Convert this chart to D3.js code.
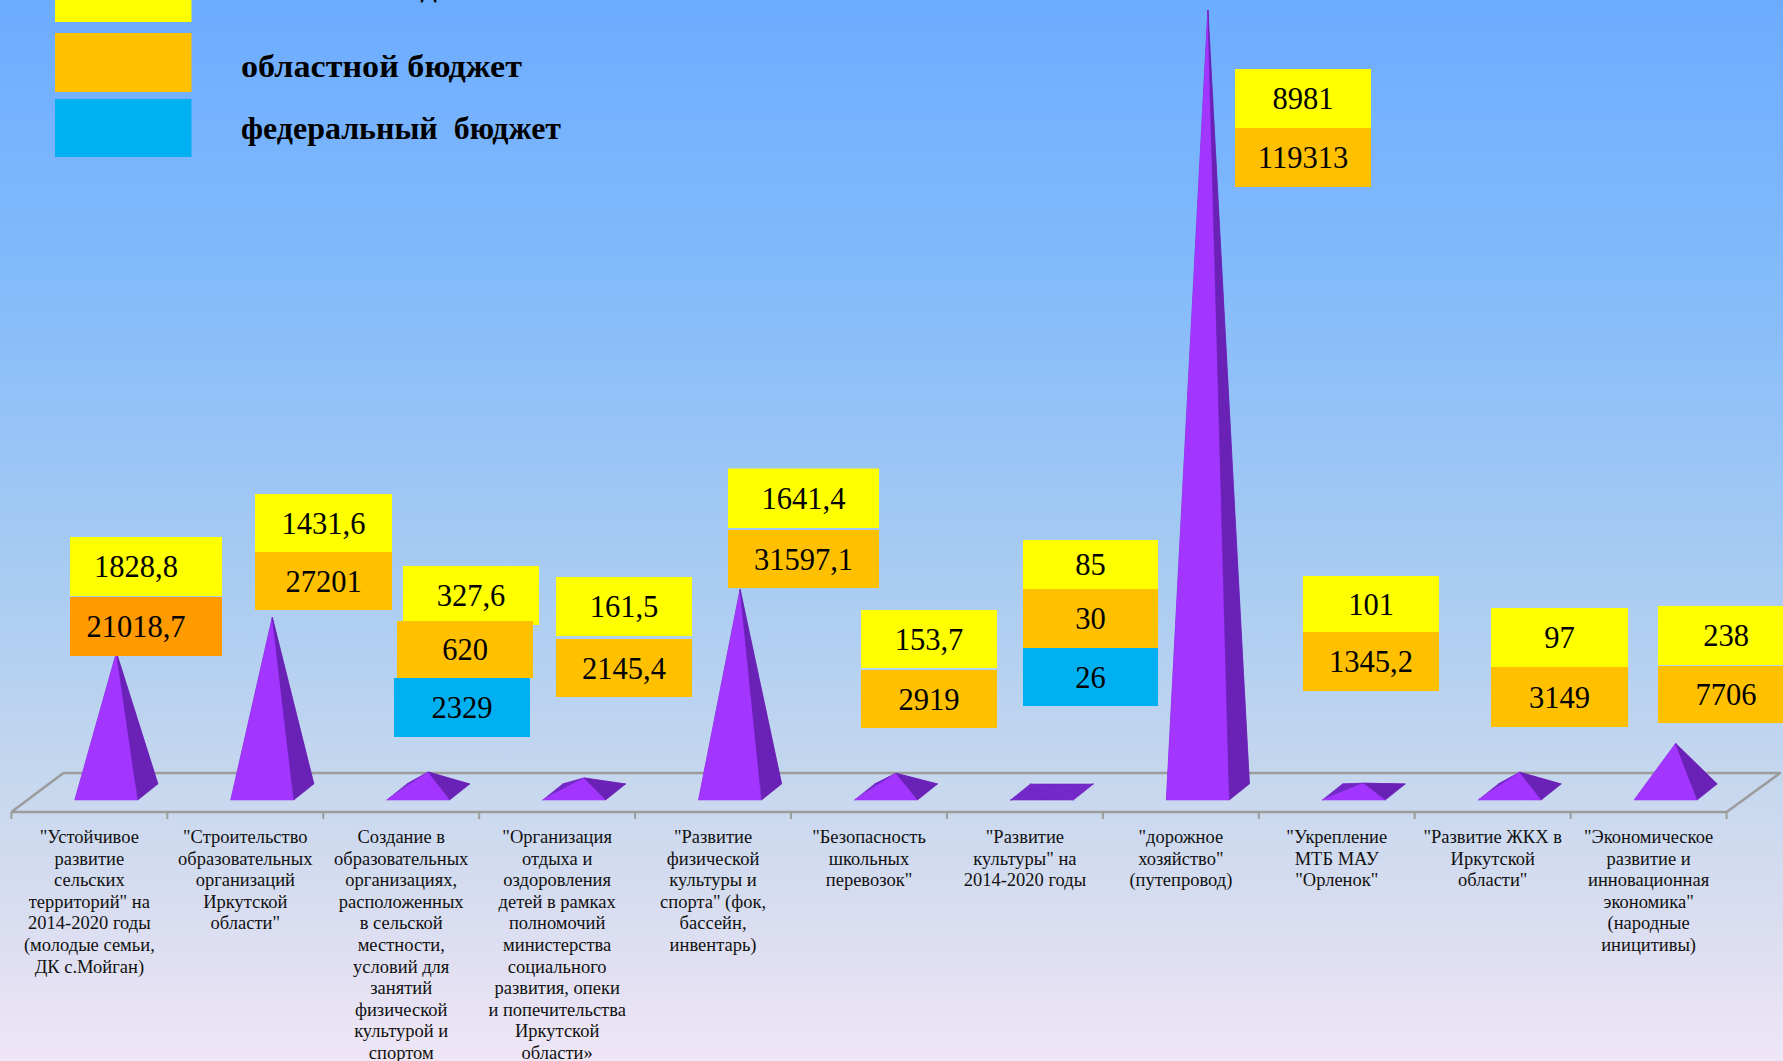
<!DOCTYPE html>
<html>
<head>
<meta charset="utf-8">
<script src="https://cdn.jsdelivr.net/npm/d3@7"></script>
<style>
  html, body { margin: 0; padding: 0; overflow: hidden; }
  svg { display: block; }
  text { font-family: "Liberation Serif", "Times New Roman", serif; }
</style>
</head>
<body>
<svg id="chart" width="1783" height="1061"></svg>
<script>
// ---------------- DATA ----------------
const categories = [
  ['"Устойчивое', 'развитие', 'сельских', 'территорий" на', '2014-2020 годы', '(молодые семьи,', 'ДК с.Мойган)'],
  ['"Строительство', 'образовательных', 'организаций', 'Иркутской', 'области"'],
  ['Создание в', 'образовательных', 'организациях,', 'расположенных', 'в сельской', 'местности,', 'условий для', 'занятий', 'физической', 'культурой и', 'спортом'],
  ['"Организация', 'отдыха и', 'оздоровления', 'детей в рамках', 'полномочий', 'министерства', 'социального', 'развития, опеки', 'и попечительства', 'Иркутской', 'области»'],
  ['"Развитие', 'физической', 'культуры и', 'спорта" (фок,', 'бассейн,', 'инвентарь)'],
  ['"Безопасность', 'школьных', 'перевозок"'],
  ['"Развитие', 'культуры" на', '2014-2020 годы'],
  ['"дорожное', 'хозяйство"', '(путепровод)'],
  ['"Укрепление', 'МТБ МАУ', '"Орленок"'],
  ['"Развитие ЖКХ в', 'Иркутской', 'области"'],
  ['"Экономическое', 'развитие и', 'инновационная', 'экономика"', '(народные', 'иницитивы)']
];
const seriesNames = ['местный бюджет', 'областной бюджет', 'федеральный  бюджет'];
const localBudget    = [1828.8, 1431.6, 327.6, 161.5, 1641.4, 153.7, 85, 8981, 101, 97, 238];
const regionalBudget = [21018.7, 27201, 620, 2145.4, 31597.1, 2919, 30, 119313, 1345.2, 3149, 7706];
const federalBudget  = [null, null, 2329, null, null, null, 26, null, null, null, null];

// ---------------- LAYOUT ----------------
const W = 1783, H = 1061;
const seriesColors = ['#FFFF00', '#FFC000', '#00B0F0'];
const floor = { x0: 11.4, x1: 1726.6, yFront: 812, yBack: 773, depthX: 52 };
const pyr = { offset: 63.5, width: 63, yFront: 800, dx: 20, dy: -16, baseY: 792, topY: 10 };
const colFront = '#A236FF', colSide = '#6A22B6', colBack = '#7428C8';

// label-box layout for each category: left x of each segment, top y and height per segment
const boxLayout = [
  { xs: [70, 70], w: 152, ys: [537, 597], hs: [59, 59], override: [null, '#FF9A00'], tdx: -10 },
  { xs: [255, 255], w: 137, ys: [494, 552], hs: [58, 58] },
  { xs: [403, 397, 394], w: 136, ys: [566, 621, 678], hs: [59, 57, 59] },
  { xs: [556, 556], w: 136, ys: [577, 639], hs: [59, 58] },
  { xs: [728, 728], w: 151, ys: [468.5, 530], hs: [59.5, 58] },
  { xs: [861, 861], w: 136, ys: [610, 670], hs: [58, 58] },
  { xs: [1023, 1023, 1023], w: 135, ys: [540, 589, 648], hs: [49, 59, 58] },
  { xs: [1235, 1235], w: 136, ys: [69, 128], hs: [59, 59] },
  { xs: [1303, 1303], w: 136, ys: [576, 632], hs: [56, 59] },
  { xs: [1491, 1491], w: 137, ys: [608, 667], hs: [59, 60] },
  { xs: [1658, 1658], w: 136, ys: [606, 666], hs: [59, 57] }
];

const svg = d3.select('#chart');

// background gradient
const defs = svg.append('defs');
const grad = defs.append('linearGradient').attr('id', 'bg')
  .attr('x1', 0).attr('y1', 0).attr('x2', 0).attr('y2', 1);
[[0, '#6CACFF'], [0.25, '#82BAFB'], [0.5, '#A2C9F3'], [0.75, '#C8D8EE'], [0.88, '#DCDEF1'], [1, '#EFE6F6']]
  .forEach(([o, c]) => grad.append('stop').attr('offset', o).attr('stop-color', c));
svg.append('rect').attr('width', W).attr('height', H).attr('fill', 'url(#bg)');

const idx = d3.range(categories.length);
const x = d3.scaleBand().domain(idx).range([floor.x0, floor.x1]).padding(0);
const totals = idx.map(i => (localBudget[i] || 0) + (regionalBudget[i] || 0) + (federalBudget[i] || 0));
const y = d3.scaleLinear().domain([0, d3.max(totals)]).range([pyr.baseY, pyr.topY]);

// floor
const g = svg.append('g');
g.append('path')
  .attr('d', d3.line()([[floor.x0, floor.yFront], [floor.x0 + floor.depthX, floor.yBack],
    [floor.x1 + floor.depthX + 1.5, floor.yBack], [floor.x1, floor.yFront], [floor.x0, floor.yFront]]))
  .attr('fill', 'none').attr('stroke', '#9C9C9C').attr('stroke-width', 2.6).attr('stroke-linejoin', 'round');

// axis ticks along front edge
const axis = d3.axisBottom(x).tickSize(0).tickFormat('');
const ag = g.append('g').attr('transform', `translate(0,${floor.yFront})`).call(axis);
ag.select('.domain').remove();
const boundaries = idx.map(i => x(i)).concat([floor.x1]);
ag.selectAll('line.bd').data(boundaries).join('line').attr('class', 'bd')
  .attr('x1', d => d).attr('x2', d => d).attr('y1', 0).attr('y2', 7)
  .attr('stroke', '#9C9C9C').attr('stroke-width', 2);

// pyramids
const pg = svg.append('g');
idx.forEach(i => {
  const FLx = x(i) + pyr.offset, FRx = FLx + pyr.width, yF = pyr.yFront;
  const BLx = FLx + pyr.dx, BRx = FRx + pyr.dx, yB = yF + pyr.dy;
  const ax = FLx + pyr.width / 2 + pyr.dx / 2;
  const ay = Math.min(y(totals[i]), yF + pyr.dy / 2 - 0.5);
  const flat = (yF + pyr.dy / 2) - ay < 3;
  const faces = [
    [[[BLx, yB], [BRx, yB], [ax, ay]], colBack],
    [[[FLx, yF], [BLx, yB], [ax, ay]], colBack],
    [[[FLx, yF], [FRx, yF], [ax, ay]], flat ? colBack : colFront],
    [[[FRx, yF], [BRx, yB], [ax, ay]], flat ? colBack : colSide]
  ];
  faces.forEach(([pts, c]) => {
    pg.append('path').attr('d', d3.line()(pts) + 'Z').attr('fill', c)
      .attr('stroke', c).attr('stroke-width', 0.6).attr('stroke-linejoin', 'round');
  });
});

// data label boxes
const fmt = d3.formatLocale({ decimal: ',', thousands: '', grouping: [3], currency: ['', ''] }).format('.10~g');
const series = [localBudget, regionalBudget, federalBudget];
const lg = svg.append('g');
idx.forEach(i => {
  const L = boxLayout[i];
  let k = 0;
  series.forEach((s, si) => {
    const v = s[i];
    if (v == null) return;
    const fill = (L.override && L.override[k]) || seriesColors[si];
    lg.append('rect').attr('x', L.xs[k]).attr('y', L.ys[k]).attr('width', L.w).attr('height', L.hs[k]).attr('fill', fill);
    lg.append('text').attr('x', L.xs[k] + L.w / 2 + (L.tdx || 0)).attr('y', L.ys[k] + L.hs[k] / 2 + 10.5)
      .attr('text-anchor', 'middle').attr('font-size', 30.5).attr('fill', '#000').text(fmt(v));
    k++;
  });
});

// category labels
const cg = svg.append('g');
idx.forEach(i => {
  const t = cg.append('text').attr('text-anchor', 'middle').attr('font-size', 18.5).attr('fill', '#111');
  categories[i].forEach((line, li) => {
    t.append('tspan').attr('x', x(i) + x.bandwidth() / 2).attr('y', 843 + li * 21.6).text(line);
  });
});

// legend
const legend = svg.append('g');
const legRects = [[-40, 62], [33, 59], [99, 58]];
const legBase = [-3, 77, 139];
const legLen = [250, 281, 320];
seriesNames.forEach((n, si) => {
  legend.append('rect').attr('x', 55).attr('y', legRects[si][0]).attr('width', 136.5).attr('height', legRects[si][1])
    .attr('fill', seriesColors[si]);
  legend.append('text').attr('x', 241).attr('y', legBase[si]).attr('font-size', 31).attr('font-weight', 'bold')
    .attr('fill', '#000').style('white-space', 'pre')
    .attr('textLength', legLen[si]).attr('lengthAdjust', 'spacingAndGlyphs').text(n);
});
</script>
</body>
</html>
